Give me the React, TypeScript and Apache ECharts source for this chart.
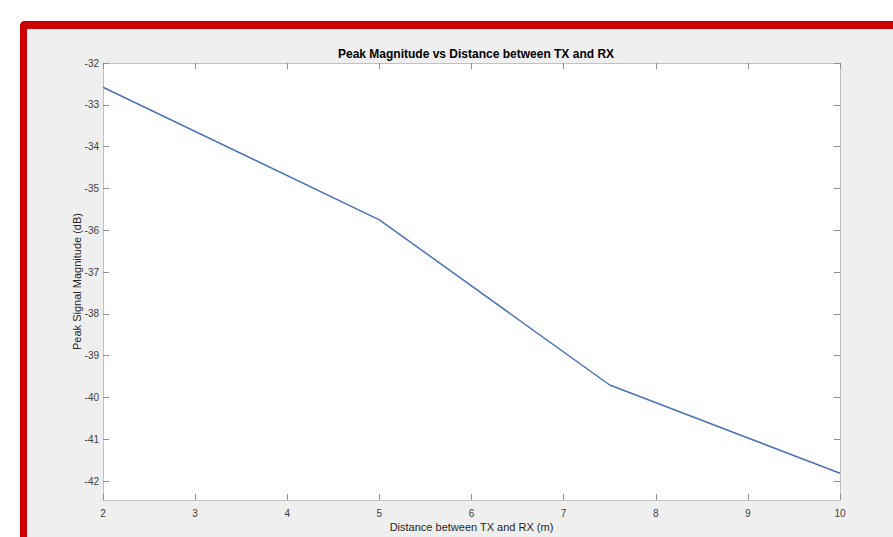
import React, { useEffect, useRef } from "react";
import * as echarts from "echarts";

const distances = [2, 5, 7.5, 10];
const peakMagnitudes = [-32.58, -35.75, -39.7, -41.81];
const xTicks = [2, 3, 4, 5, 6, 7, 8, 9, 10];
const yTicks = [-42, -41, -40, -39, -38, -37, -36, -35, -34, -33, -32];

const titleText = "Peak Magnitude vs Distance between TX and RX";
const xName = "Distance between TX and RX (m)";
const yName = "Peak Signal Magnitude (dB)";

export default function App() {
  const ref = useRef<HTMLDivElement>(null);

  useEffect(() => {
    document.body.style.margin = "0";
    if (!ref.current) return;
    const chart = echarts.init(ref.current, undefined, { renderer: "svg" });
    const font = "'Liberation Sans', Arial, Helvetica, sans-serif";
    const axisLine = { show: true, lineStyle: { color: "#c2c2c2", width: 1 } };
    const tickStyle = { color: "#8f8f8f", width: 1 };
    const data = distances.map((d, i) => [d, peakMagnitudes[i]]);
    chart.setOption({
      animation: false,
      backgroundColor: "transparent",
      title: {
        text: titleText,
        left: 471,
        textAlign: "center",
        top: 43,
        textStyle: { fontFamily: font, fontSize: 12, fontWeight: "bold", color: "#000" },
      },
      grid: { left: 103, top: 63, width: 737, height: 440, show: true, backgroundColor: "#ffffff", borderWidth: 0 },
      xAxis: [
        {
          type: "value",
          min: 2,
          max: 10,
          interval: 1,
          position: "bottom",
          name: xName,
          nameLocation: "middle",
          nameGap: 21,
          nameMoveOverlap: false,
          nameTextStyle: { fontFamily: font, fontSize: 11, color: "#262626" },
          axisLine,
          axisTick: { show: true, inside: true, length: 6, lineStyle: tickStyle, customValues: xTicks },
          axisLabel: { fontFamily: font, fontSize: 10, color: "#404040", margin: 8, customValues: xTicks },
          splitLine: { show: false },
        },
        {
          type: "value",
          min: 2,
          max: 10,
          interval: 1,
          position: "top",
          axisLine,
          axisTick: { show: true, inside: true, length: 6, lineStyle: tickStyle, customValues: xTicks },
          axisLabel: { show: false },
          splitLine: { show: false },
        },
      ],
      yAxis: [
        {
          type: "value",
          min: -42.45,
          max: -32,
          position: "left",
          name: yName,
          nameLocation: "middle",
          nameGap: 21,
          nameMoveOverlap: false,
          nameTextStyle: { fontFamily: font, fontSize: 11, color: "#262626" },
          axisLine,
          axisTick: { show: true, inside: true, length: 6, lineStyle: tickStyle, customValues: yTicks },
          axisLabel: { fontFamily: font, fontSize: 10, color: "#404040", margin: 4, customValues: yTicks },
          splitLine: { show: false },
        },
        {
          type: "value",
          min: -42.45,
          max: -32,
          position: "right",
          axisLine,
          axisTick: { show: true, inside: true, length: 6, lineStyle: tickStyle, customValues: yTicks },
          axisLabel: { show: false },
          splitLine: { show: false },
        },
      ],
      series: [
        {
          type: "line",
          data,
          xAxisIndex: 0,
          yAxisIndex: 0,
          showSymbol: false,
          symbol: "none",
          lineStyle: { color: "#4a72b9", width: 1.5 },
        },
      ],
    });
    return () => chart.dispose();
  }, []);

  return (
    <div style={{ position: "relative", width: 893, height: 537, background: "#ffffff", overflow: "hidden" }}>
      <div
        style={{
          position: "absolute",
          left: 20,
          top: 21,
          width: 900,
          height: 540,
          boxSizing: "border-box",
          borderTop: "8px solid #cc0000",
          borderLeft: "7px solid #cc0000",
          borderTopLeftRadius: 5,
          background: "#efefef",
        }}
      />
      <div ref={ref} style={{ position: "absolute", left: 0, top: 0, width: 893, height: 537 }} />
    </div>
  );
}
